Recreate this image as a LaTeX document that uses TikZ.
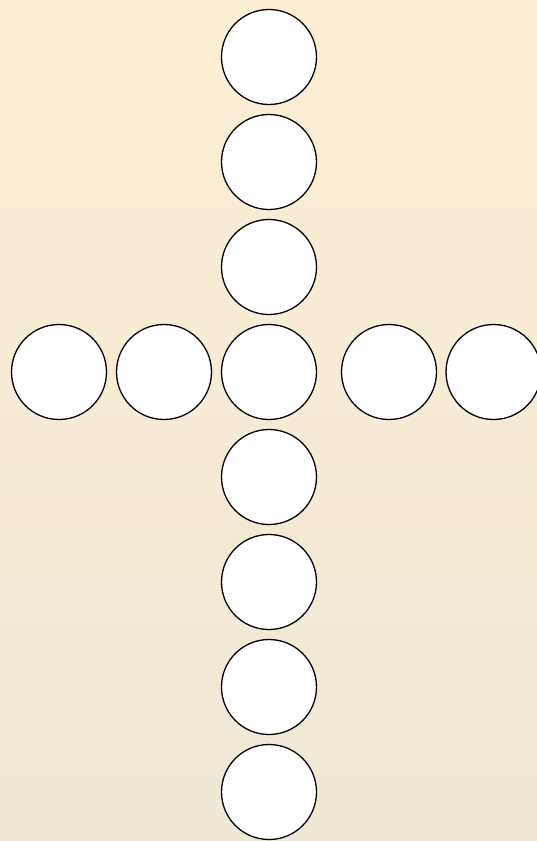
\documentclass[tikz,border=0pt]{standalone}
\begin{document}
\begin{tikzpicture}[x=1pt,y=-1pt,
  dot/.style={circle,draw=black,fill=white,line width=1.3pt,minimum size=95pt,inner sep=0pt}]
\definecolor{bgtop}{HTML}{FDEED3}
\definecolor{bgbot}{HTML}{EEE8D5}
\useasboundingbox (0,0) rectangle (537,841);
\clip (0,0) rectangle (537,841);
\shade[top color=bgtop,bottom color=bgbot] (0,0) rectangle (537,841);
\foreach \i/\y in {1/57,2/162,3/267,4/372,5/477,6/582,7/687,8/792}{
  \node[dot] (v\i) at (269,\y) {};
}
\node[dot] (h1) at (59,372) {};
\node[dot] (h2) at (164,372) {};
\node[dot] (h3) at (389,372) {};
\node[dot] (h4) at (493.5,372) {};
\end{tikzpicture}
\end{document}
